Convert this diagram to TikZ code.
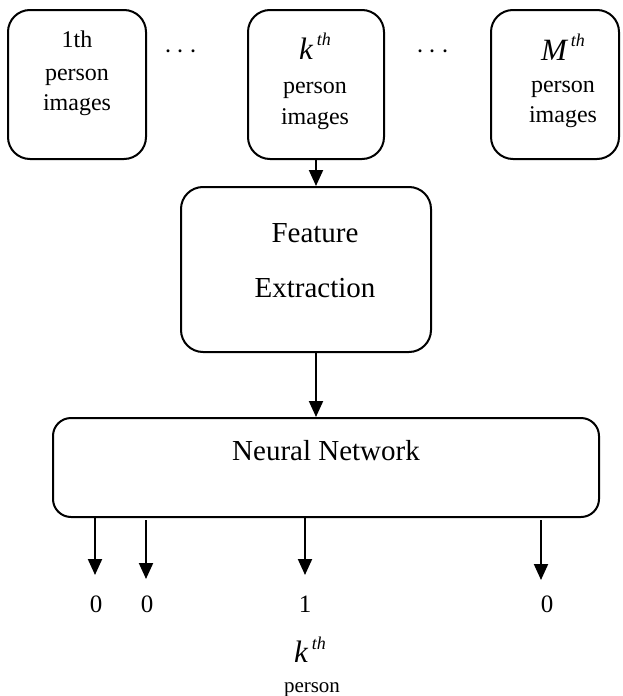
\documentclass[tikz,border=0pt]{standalone}
\usepackage{fontspec}
\setmainfont{Liberation Serif}
\usetikzlibrary{arrows.meta}
\newcommand{\ordsup}[3]{{\fontsize{#2}{#2}\selectfont\itshape #1}\hspace{2pt}\raisebox{#3}{\fontsize{9}{9}\selectfont\itshape th}}
\begin{document}
\begin{tikzpicture}[x=0.5pt,y=-0.5pt,
  box/.style={draw, line width=1pt, rounded corners=11pt, inner sep=0pt},
  arr/.style={line width=1pt, -{Triangle[width=7pt,length=8pt]}},
  small/.style={anchor=base, inner sep=0pt, font=\fontsize{12}{12}\selectfont},
  big/.style={anchor=base, inner sep=0pt, font=\fontsize{14.5}{14.5}\selectfont},
  digit/.style={anchor=base, inner sep=0pt, font=\fontsize{12.5}{12.5}\selectfont},
  dotsym/.style={inner sep=0pt, font=\fontsize{15}{15}\selectfont}]
\useasboundingbox (0,0) rectangle (622,696);

% input boxes
\node[box, minimum width=69pt, minimum height=74.5pt] (b1) at (77,84.5) {};
\node[box, minimum width=68pt, minimum height=74.5pt] (b2) at (316,84.5) {};
\node[box, minimum width=64pt, minimum height=74.5pt] (b3) at (555,84.5) {};

\node[small] (b1a) at (77,47) {1th};
\node[small] (b1b) at (77,80) {person};
\node[small] (b1c) at (77,110) {images};

\node[big] (b2a) at (315,59) {\ordsup{k}{15.5}{6.5pt}};
\node[small] (b2b) at (315,93) {person};
\node[small] (b2c) at (315,124) {images};

\node[big] (b3a) at (563,60) {\ordsup{M}{15.5}{6.5pt}};
\node[small] (b3b) at (563,92) {person};
\node[small] (b3c) at (563,122) {images};

\node[dotsym] (d1) at (181,52) {$\cdots$};
\node[dotsym] (d2) at (433,52) {$\cdots$};

% feature extraction
\node[box, minimum width=125pt, minimum height=82.5pt] (fe) at (306,269.5) {};
\node[big] (fea) at (315,242) {Feature};
\node[big] (feb) at (315,297) {Extraction};

% neural network
\node[box, rounded corners=9pt, minimum width=273pt, minimum height=49.5pt] (nn) at (326,467.5) {};
\node[big] (nna) at (326,460) {Neural Network};

\draw[arr] (b2.south) -- (b2.south |- fe.north);
\draw[arr] (fe.south -| b2.south) -- (nn.north -| b2.south);

% outputs
\coordinate (t1) at (95,575);
\coordinate (s2) at (146,520);
\coordinate (t2) at (146,579);
\coordinate (t3) at (305,575);
\coordinate (s4) at (541,520);
\coordinate (t4) at (541,580);
\draw[arr] (nn.south -| t1) -- (t1);
\draw[arr] (s2) -- (t2);
\draw[arr] (nn.south -| t3) -- (t3);
\draw[arr] (s4) -- (t4);

\node[digit] (o1) at (96,612) {0};
\node[digit] (o2) at (147,612) {0};
\node[digit] (o3) at (305,612) {1};
\node[digit] (o4) at (547,612) {0};

\node[big] (ka) at (310,662) {\ordsup{k}{15.5}{6.5pt}};
\node[anchor=base, inner sep=0pt, font=\fontsize{10.5}{10.5}\selectfont] (kb) at (312,692) {person};
\end{tikzpicture}
\end{document}
